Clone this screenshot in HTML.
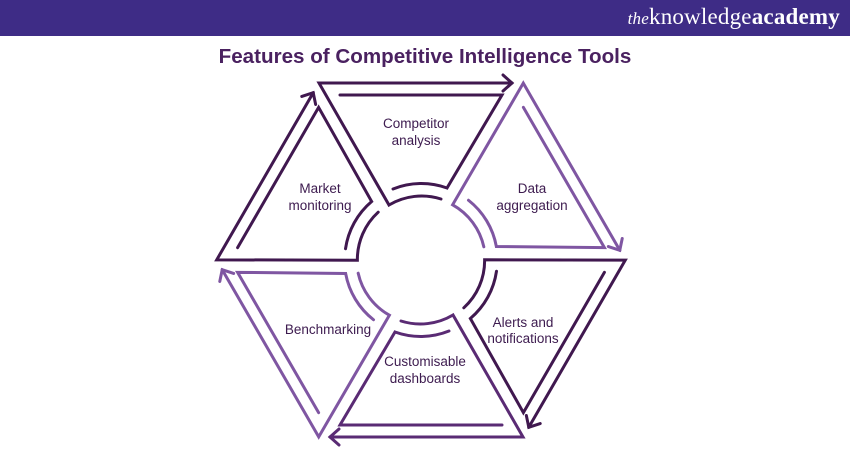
<!DOCTYPE html>
<html><head><style>
body{margin:0;width:850px;height:450px;background:#fff;overflow:hidden;position:relative;font-family:"Liberation Sans",sans-serif}
.hdr{position:absolute;left:0;top:0;width:850px;height:36px;background:#3e2c86}
.logo{position:absolute;right:10px;top:4px;color:#fff;font-family:"Liberation Serif",serif;font-size:23px;letter-spacing:0.2px}
.logo i{font-size:17px}
.title{position:absolute;left:0;width:850px;top:45px;text-align:center;font-weight:bold;font-size:20.6px;color:#4a2160}
</style></head><body>
<div class="hdr"></div>
<div class="logo"><i>the</i>knowledge<b style="font-weight:bold">academy</b></div>
<div class="title">Features of Competitive Intelligence Tools</div>
<svg width="850" height="450" style="position:absolute;left:0;top:0" fill="none" stroke-width="3" stroke-linecap="round" stroke-linejoin="miter">
<defs>
<g id="sec">
<path d="M512,83 L319,83 L389,205 A64,64 0 0 1 441,199"/>
<path d="M503,75 L512,83 L503,91"/>
<path d="M340,95 L502,95 L447,188 A76,76 0 0 0 393,189"/>
</g>
</defs>
<use href="#sec" stroke="#40184f"/>
<use href="#sec" stroke="#7f56a2" transform="rotate(60 421 260)"/>
<use href="#sec" stroke="#40184f" transform="rotate(120 421 260)"/>
<use href="#sec" stroke="#5a2b74" transform="rotate(180 421 260)"/>
<use href="#sec" stroke="#7f56a2" transform="rotate(240 421 260)"/>
<use href="#sec" stroke="#40184f" transform="rotate(300 421 260)"/>
<g font-family="Liberation Sans, sans-serif" font-size="13.5" fill="#3d1b4f" stroke="none" text-anchor="middle">
<text x="416" y="128">Competitor</text><text x="416" y="145">analysis</text>
<text x="532" y="193">Data</text><text x="532" y="210">aggregation</text>
<text x="320" y="193">Market</text><text x="320" y="210">monitoring</text>
<text x="328" y="334">Benchmarking</text>
<text x="523" y="327">Alerts and</text><text x="523" y="343">notifications</text>
<text x="425" y="366">Customisable</text><text x="425" y="383">dashboards</text>
</g>
</svg>
</body></html>
